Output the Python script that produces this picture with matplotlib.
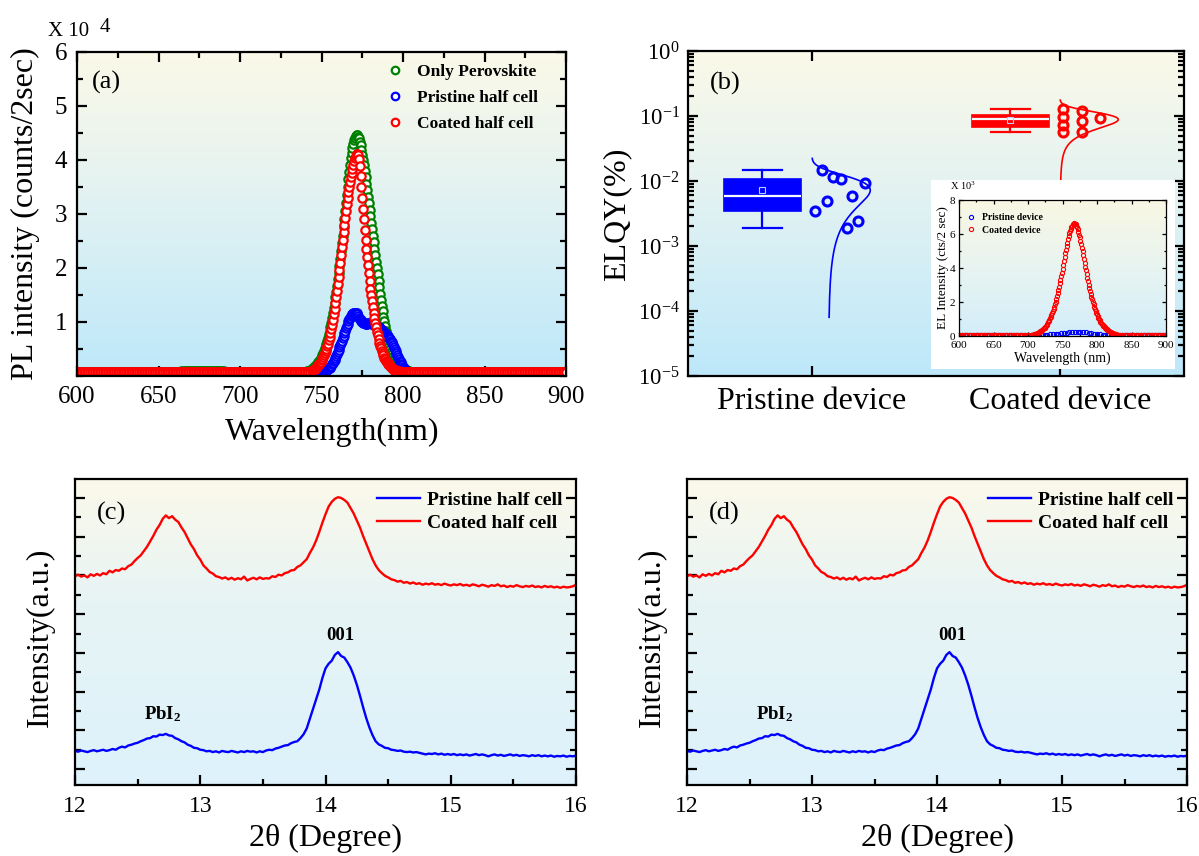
import numpy as np
import matplotlib
matplotlib.use("Agg")
import matplotlib.pyplot as plt
from matplotlib.colors import LinearSegmentedColormap
from matplotlib.patches import Rectangle
from matplotlib import cbook
from matplotlib.ticker import MultipleLocator, LogLocator, LogFormatterMathtext, NullFormatter, FixedLocator

plt.rcParams['font.family'] = ['Liberation Serif', 'DejaVu Serif']
plt.rcParams['mathtext.fontset'] = 'custom'
plt.rcParams['mathtext.rm'] = 'Liberation Serif'
plt.rcParams['mathtext.it'] = 'Liberation Serif:italic'
plt.rcParams['mathtext.bf'] = 'Liberation Serif:bold'

# ---------------- (a) PL spectra, intensity in units of 1e4 counts/2sec ----------------
pl_wavelength = np.concatenate([np.arange(600, 745, 1.0), np.arange(745, 805.5, 0.5), np.arange(806, 901, 1.0)])

pl_only_perovskite = (
    [0.08] * 64 + [0.09] * 4 + [0.10] * 19 + [0.09] * 4 + [0.08] * 49
    + [0.08, 0.09, 0.10, 0.11, 0.13]
    + [0.15, 0.165, 0.18, 0.195, 0.21, 0.23, 0.25, 0.275, 0.30, 0.33,
       0.36, 0.395, 0.43, 0.47, 0.51, 0.555, 0.60, 0.655, 0.71, 0.775,
       0.84, 0.915, 0.99, 1.075, 1.16, 1.255, 1.35, 1.455, 1.56, 1.675,
       1.79, 1.915, 2.04, 2.175, 2.31, 2.455, 2.60, 2.75, 2.90, 3.05,
       3.20, 3.35, 3.50, 3.64, 3.78, 3.91, 4.03, 4.13, 4.23, 4.30,
       4.37, 4.41, 4.45, 4.46, 4.46, 4.43, 4.40, 4.34, 4.28, 4.19,
       4.10, 4.00, 3.90, 3.79, 3.68, 3.56, 3.44, 3.32, 3.20, 3.08,
       2.96, 2.84, 2.72, 2.60, 2.48, 2.36, 2.24, 2.12, 2.00, 1.88,
       1.76, 1.64, 1.52, 1.41, 1.30, 1.20, 1.10, 1.01, 0.92, 0.84,
       0.76, 0.69, 0.62, 0.56, 0.50, 0.45, 0.40, 0.36, 0.32, 0.29,
       0.26, 0.235, 0.21, 0.19, 0.17, 0.155, 0.14, 0.13, 0.12, 0.115,
       0.11, 0.105, 0.10, 0.095, 0.09, 0.09, 0.09, 0.085, 0.08, 0.08, 0.08]
    + [0.08] * 95
)

pl_pristine_half = (
    [0.06] * 145
    + [0.06, 0.06, 0.06, 0.06, 0.06, 0.06, 0.06, 0.06, 0.06, 0.06,
       0.07, 0.075, 0.08, 0.085, 0.09, 0.10, 0.11, 0.12, 0.13, 0.14,
       0.15, 0.17, 0.19, 0.215, 0.24, 0.27, 0.30, 0.335, 0.37, 0.41,
       0.45, 0.49, 0.53, 0.57, 0.61, 0.655, 0.70, 0.745, 0.79, 0.835,
       0.88, 0.925, 0.97, 1.01, 1.05, 1.08, 1.11, 1.13, 1.15, 1.16,
       1.17, 1.17, 1.17, 1.16, 1.14, 1.11, 1.08, 1.05, 1.03, 1.01,
       1.00, 0.99, 0.98, 0.975, 0.97, 0.97, 0.97, 0.975, 0.98, 0.98,
       0.98, 0.975, 0.97, 0.96, 0.95, 0.94, 0.93, 0.92, 0.91, 0.905,
       0.90, 0.89, 0.88, 0.865, 0.85, 0.835, 0.82, 0.805, 0.79, 0.775,
       0.76, 0.74, 0.72, 0.70, 0.68, 0.655, 0.63, 0.605, 0.58, 0.54,
       0.50, 0.46, 0.42, 0.385, 0.35, 0.315, 0.28, 0.25, 0.22, 0.195,
       0.17, 0.15, 0.13, 0.115, 0.10, 0.09, 0.08, 0.075, 0.07, 0.065, 0.06]
    + [0.06] * 95
)

pl_coated_half = (
    [0.07] * 140
    + [0.07, 0.07, 0.08, 0.08, 0.09]
    + [0.11, 0.12, 0.13, 0.145, 0.16, 0.18, 0.20, 0.22, 0.24, 0.265,
       0.29, 0.32, 0.35, 0.385, 0.42, 0.46, 0.50, 0.55, 0.60, 0.66,
       0.72, 0.79, 0.87, 0.95, 1.04, 1.14, 1.24, 1.35, 1.46, 1.58,
       1.70, 1.83, 1.96, 2.10, 2.24, 2.38, 2.52, 2.66, 2.80, 2.93,
       3.06, 3.18, 3.30, 3.40, 3.50, 3.59, 3.68, 3.76, 3.84, 3.91,
       3.98, 4.03, 4.08, 4.11, 4.12, 4.09, 4.02, 3.88, 3.70, 3.50,
       3.30, 3.10, 2.90, 2.71, 2.52, 2.36, 2.20, 2.05, 1.90, 1.76,
       1.62, 1.50, 1.38, 1.27, 1.17, 1.07, 0.98, 0.90, 0.82, 0.75,
       0.68, 0.62, 0.56, 0.51, 0.46, 0.42, 0.38, 0.34, 0.31, 0.28,
       0.26, 0.24, 0.22, 0.20, 0.18, 0.165, 0.15, 0.14, 0.13, 0.12,
       0.11, 0.105, 0.10, 0.095, 0.09, 0.085, 0.08, 0.08, 0.08, 0.075,
       0.075, 0.07, 0.07, 0.07, 0.07, 0.07, 0.07, 0.07, 0.07, 0.07, 0.07]
    + [0.07] * 95
)

pl_labels = ['Only Perovskite', 'Pristine half cell', 'Coated half cell']

# ---------------- (b) ELQY (%) per device ----------------
device_names = ['Pristine device', 'Coated device']
elqy_pristine = [0.0148, 0.0116, 0.0106, 0.0094, 0.0059, 0.0049, 0.0034, 0.0024, 0.0019]
elqy_coated = [0.126, 0.098, 0.073, 0.056, 0.120, 0.085, 0.056, 0.092]
# horizontal scatter of the individual devices next to each box
jitter_pristine = [0.04, 0.085, 0.115, 0.214, 0.163, 0.06, 0.012, 0.185, 0.14]
jitter_coated = [0.011, 0.011, 0.011, 0.011, 0.087, 0.087, 0.087, 0.161]

# inset: EL spectra, intensity in units of 1e3 cts/2 sec
el_wavelength_coated = np.concatenate([np.arange(600, 706, 2), np.arange(706, 830, 1), np.arange(830, 901, 2)])
el_coated = (
    [0.06] * 53
    + [0.07, 0.08, 0.09, 0.10, 0.11, 0.12, 0.13, 0.15, 0.17, 0.19,
       0.21, 0.24, 0.27, 0.30, 0.33, 0.37, 0.41, 0.45, 0.50, 0.55,
       0.60, 0.66, 0.73, 0.80, 0.87, 0.95, 1.04, 1.13, 1.23, 1.34,
       1.46, 1.58, 1.72, 1.86, 2.01, 2.17, 2.34, 2.51, 2.70, 2.89,
       3.09, 3.30, 3.51, 3.73, 3.95, 4.18, 4.40, 4.63, 4.86, 5.08,
       5.29, 5.50, 5.69, 5.87, 6.03, 6.18, 6.31, 6.42, 6.50, 6.57,
       6.61, 6.62,
       6.61, 6.56, 6.49, 6.39, 6.27, 6.13, 5.97, 5.80, 5.61, 5.41,
       5.20, 4.98, 4.76, 4.53, 4.30, 4.08, 3.86, 3.64, 3.43, 3.22,
       3.02, 2.83, 2.65, 2.48, 2.31, 2.15, 2.00, 1.86, 1.73, 1.60,
       1.48, 1.37, 1.27, 1.17, 1.08, 1.00, 0.92, 0.85, 0.78, 0.72,
       0.66, 0.61, 0.56, 0.51, 0.47, 0.43, 0.39, 0.36, 0.33, 0.30,
       0.27, 0.24, 0.22, 0.20, 0.18, 0.16, 0.14, 0.12, 0.11, 0.10,
       0.09, 0.08]
    + [0.07] * 36
)
el_wavelength_pristine = np.arange(600, 901, 4)
el_pristine = (
    [0.03] * 29
    + [0.04, 0.05, 0.06, 0.07, 0.09, 0.10, 0.12, 0.14, 0.16, 0.18,
       0.20, 0.21, 0.22, 0.23, 0.24, 0.24, 0.22, 0.21, 0.19, 0.16,
       0.13, 0.11, 0.10, 0.07, 0.06, 0.05, 0.04, 0.03, 0.03]
    + [0.03] * 18
)
el_labels = ['Pristine device', 'Coated device']

# ---------------- (c)/(d) XRD patterns, arbitrary units ----------------
two_theta = np.linspace(12.0, 16.0, 161)
xrd_pristine = [
    0.47, 0.45, 0.48, 0.46, 0.44, 0.47, 0.49, 0.46, 0.48, 0.50,
    0.47, 0.49, 0.52, 0.50, 0.55, 0.58, 0.56, 0.61, 0.63, 0.66,
    0.68, 0.72, 0.75, 0.79, 0.80, 0.85, 0.84, 0.89, 0.88, 0.91,
    0.87, 0.86, 0.80, 0.77, 0.72, 0.69, 0.63, 0.60, 0.55, 0.54,
    0.50, 0.49, 0.46, 0.47, 0.44, 0.46, 0.43, 0.47, 0.45, 0.44,
    0.47, 0.45, 0.43, 0.46, 0.44, 0.47, 0.45, 0.46, 0.43, 0.46,
    0.44, 0.48, 0.50, 0.49, 0.53, 0.55, 0.58, 0.61, 0.62, 0.67,
    0.70, 0.72, 0.80, 0.90, 1.05, 1.30, 1.55, 1.80, 2.05, 2.35,
    2.60, 2.72, 2.80, 2.95, 3.02, 2.92, 2.88, 2.76, 2.62, 2.42,
    2.18, 1.90, 1.60, 1.32, 1.08, 0.88, 0.72, 0.64, 0.60, 0.55,
    0.54, 0.50, 0.49, 0.47, 0.48, 0.45, 0.44, 0.45, 0.43, 0.44,
    0.42, 0.40, 0.38, 0.40, 0.39, 0.41, 0.38, 0.40, 0.37, 0.39,
    0.37, 0.39, 0.36, 0.38, 0.36, 0.38, 0.35, 0.37, 0.39, 0.36,
    0.38, 0.36, 0.33, 0.36, 0.38, 0.35, 0.37, 0.34, 0.36, 0.38,
    0.35, 0.37, 0.34, 0.36, 0.35, 0.33, 0.36, 0.34, 0.36, 0.33,
    0.35, 0.33, 0.35, 0.32, 0.34, 0.33, 0.35, 0.32, 0.34, 0.33,
    0.35]
xrd_coated = [
    4.98, 5.02, 4.97, 5.00, 4.95, 5.03, 4.99, 5.04, 5.00, 5.06,
    5.03, 5.12, 5.08, 5.14, 5.12, 5.18, 5.16, 5.24, 5.28, 5.37,
    5.45, 5.52, 5.63, 5.74, 5.88, 6.02, 6.18, 6.30, 6.46, 6.55,
    6.48, 6.53, 6.44, 6.38, 6.24, 6.12, 5.96, 5.80, 5.68, 5.52,
    5.41, 5.26, 5.18, 5.09, 5.05, 4.98, 4.96, 4.92, 4.95, 4.90,
    4.94, 4.89, 4.93, 4.90, 4.97, 4.87, 4.91, 4.94, 4.90, 4.95,
    4.91, 4.93, 4.92, 4.98, 4.96, 5.02, 5.00, 5.06, 5.08, 5.13,
    5.14, 5.22, 5.26, 5.34, 5.42, 5.58, 5.72, 5.90, 6.12, 6.36,
    6.58, 6.78, 6.90, 6.98, 7.02, 7.00, 6.95, 6.88, 6.74, 6.60,
    6.42, 6.24, 6.02, 5.82, 5.62, 5.42, 5.26, 5.14, 5.06, 4.99,
    4.95, 4.90, 4.88, 4.84, 4.86, 4.81, 4.83, 4.79, 4.82, 4.78,
    4.80, 4.76, 4.79, 4.77, 4.80, 4.76, 4.78, 4.75, 4.79, 4.76,
    4.74, 4.77, 4.75, 4.78, 4.74, 4.76, 4.73, 4.77, 4.75, 4.72,
    4.76, 4.74, 4.71, 4.75, 4.73, 4.77, 4.72, 4.74, 4.70, 4.73,
    4.71, 4.75, 4.72, 4.70, 4.73, 4.71, 4.74, 4.70, 4.72, 4.69,
    4.73, 4.70, 4.72, 4.69, 4.71, 4.68, 4.71, 4.69, 4.70, 4.72,
    4.76]
xrd_labels = ['Pristine half cell', 'Coated half cell']
peak_names = ['PbI$_\\mathbf{2}$', '001']
peak_spots = [(12.70, 1.42), (14.12, 3.46)]

# ---------------- layout helpers ----------------
W, H = 1199, 856
fig = plt.figure(figsize=(W / 100, H / 100), dpi=100)
fig.patch.set_facecolor('white')

BLUE, RED, GREEN = '#0000FF', '#FF0000', '#008000'


def box(l, t, r, b):
    return [l / W, 1 - b / H, (r - l) / W, (b - t) / H]


def fx(px):
    return px / W


def fy(py):
    return 1 - py / H


def backdrop(r, stops, z):
    bg = fig.add_axes(r, zorder=z)
    bg.set_axis_off()
    cmap = LinearSegmentedColormap.from_list('shade', stops)
    bg.imshow(np.linspace(0, 1, 256).reshape(-1, 1), cmap=cmap, aspect='auto',
              extent=(0, 1, 0, 1), origin='upper', interpolation='bilinear')
    bg.set_xlim(0, 1)
    bg.set_ylim(0, 1)
    return bg


def frame(ax, lw=1.6, major=7, minor=4, size=17):
    ax.set_facecolor('none')
    for s in ax.spines.values():
        s.set_linewidth(lw)
    ax.tick_params(which='both', direction='in', top=True, right=True, width=lw, labelsize=size)
    ax.tick_params(which='major', length=major)
    ax.tick_params(which='minor', length=minor)


shade_top = [(0.0, '#FBF9E8'), (0.45, '#E2F2F2'), (1.0, '#BDE8FA')]
shade_bottom = [(0.0, '#FBF9EA'), (0.40, '#E7F4F4'), (1.0, '#DDF2FC')]
shade_inset = [(0.0, '#F9F7E3'), (0.5, '#E8F4F1'), (1.0, '#D3EEFA')]

# ---------------- panel (a) ----------------
ra = box(77, 52, 566, 376)
backdrop(ra, shade_top, 0.5)
ax_a = fig.add_axes(ra, zorder=1)
for vals, col, lab in zip([pl_only_perovskite, pl_pristine_half, pl_coated_half],
                          [GREEN, BLUE, RED], pl_labels):
    ax_a.plot(pl_wavelength, vals, ls='none', marker='o', ms=6.0, mew=1.6,
              mec=col, mfc='white', label=lab)
ax_a.set_xlim(600, 900)
ax_a.set_ylim(0, 6)
ax_a.xaxis.set_major_locator(MultipleLocator(50))
ax_a.xaxis.set_minor_locator(MultipleLocator(25))
ax_a.yaxis.set_major_locator(FixedLocator([1, 2, 3, 4, 5, 6]))
ax_a.yaxis.set_minor_locator(MultipleLocator(0.5))
frame(ax_a, size=18)
ax_a.tick_params(axis='x', pad=7)
ax_a.tick_params(axis='y', pad=7)
ax_a.legend(loc='upper left', bbox_to_anchor=(0.632, 0.962), frameon=False,
            prop=dict(weight='bold', size=12.5), handlelength=1.0, handletextpad=0.8,
            labelspacing=0.55, borderpad=0, borderaxespad=0, markerscale=0.9)
fig.text(fx(92), fy(82), '(a)', fontsize=19, ha='left', va='center')
fig.text(fx(48), fy(32), 'X 10', fontsize=15, ha='left', va='center')
fig.text(fx(100), fy(27), '4', fontsize=15, ha='left', va='center')
fig.text(fx(332), fy(432), 'Wavelength(nm)', fontsize=23, ha='center', va='center')
fig.text(fx(25), fy(214), 'PL intensity (counts/2sec)', fontsize=23, rotation=90,
         ha='center', va='center')

# ---------------- panel (b) ----------------
rb = box(688, 51, 1184, 376)
backdrop(rb, shade_top, 0.5)
ax_b = fig.add_axes(rb, zorder=1)
ax_b.set_yscale('log')
groups = [(elqy_pristine, jitter_pristine, BLUE, 1.0), (elqy_coated, jitter_coated, RED, 2.0)]
for vals, jit, col, pos in groups:
    stats = cbook.boxplot_stats(np.array(vals), whis=(0, 100))
    ax_b.bxp(stats, positions=[pos - 0.2], widths=0.31, capwidths=0.155,
             patch_artist=True, showmeans=True, showfliers=False,
             boxprops=dict(facecolor=col, edgecolor=col, linewidth=1.2),
             medianprops=dict(color='#F4F8FF', linewidth=1.6),
             whiskerprops=dict(color=col, linewidth=1.6),
             capprops=dict(color=col, linewidth=1.6),
             meanprops=dict(marker='s', markerfacecolor='none', markeredgecolor='#B8D0FF',
                            markersize=4, markeredgewidth=0.8))
    ax_b.plot(pos + np.array(jit), vals, ls='none', marker='o', ms=6.5, mew=2.2,
              mec=col, mfc='none')
    mu, sd = np.mean(vals), np.std(vals, ddof=1)
    yy = np.linspace(8e-5, mu + 3.3 * sd, 600)
    ax_b.plot(pos + 0.235 * np.exp(-0.5 * ((yy - mu) / sd) ** 2), yy, color=col, lw=1.2)
ax_b.set_xlim(0.5, 2.5)
ax_b.set_ylim(1e-5, 1)
ax_b.set_xticks([1, 2])
ax_b.set_xticklabels(device_names)
ax_b.yaxis.set_major_locator(LogLocator(base=10, numticks=10))
ax_b.yaxis.set_major_formatter(LogFormatterMathtext())
ax_b.yaxis.set_minor_locator(LogLocator(base=10, subs=np.arange(2, 10), numticks=20))
ax_b.yaxis.set_minor_formatter(NullFormatter())
frame(ax_b, size=16.5)
ax_b.tick_params(axis='x', which='minor', top=False, bottom=False)
ax_b.tick_params(axis='x', labelsize=23, pad=8)
ax_b.tick_params(axis='y', pad=6)
fig.text(fx(710), fy(83), '(b)', fontsize=19, ha='left', va='center')
fig.text(fx(617), fy(214), 'ELQY(%)', fontsize=23, rotation=90, ha='center', va='center')

# inset with EL spectra
fig.add_artist(Rectangle((fx(931), fy(369)), fx(1175) - fx(931), fy(180) - fy(369),
                         transform=fig.transFigure, facecolor='white', edgecolor='none', zorder=2))
ri = box(959, 200, 1166, 336)
backdrop(ri, shade_inset, 2.5)
ax_i = fig.add_axes(ri, zorder=3)
ax_i.plot(el_wavelength_pristine, el_pristine, ls='none', marker='o', ms=3.0, mew=0.8,
          mec=BLUE, mfc='none', label=el_labels[0])
ax_i.plot(el_wavelength_coated, el_coated, ls='none', marker='o', ms=3.0, mew=0.8,
          mec=RED, mfc='none', label=el_labels[1])
ax_i.set_xlim(600, 900)
ax_i.set_ylim(0, 8)
ax_i.xaxis.set_major_locator(MultipleLocator(50))
ax_i.xaxis.set_minor_locator(MultipleLocator(25))
ax_i.yaxis.set_major_locator(MultipleLocator(2))
ax_i.yaxis.set_minor_locator(MultipleLocator(1))
frame(ax_i, lw=0.9, major=3, minor=1.6, size=8)
ax_i.tick_params(axis='x', pad=3.5)
ax_i.tick_params(axis='y', pad=2.5)
ax_i.legend(loc='upper left', bbox_to_anchor=(0.035, 0.905), frameon=False,
            prop=dict(weight='bold', size=7), handlelength=0.9, handletextpad=0.7,
            labelspacing=0.4, borderpad=0, borderaxespad=0)
ax_i.set_xlabel('Wavelength (nm)', fontsize=10, labelpad=1)
ax_i.set_ylabel('EL Intensity (cts/2 sec)', fontsize=9.5, labelpad=1)
fig.text(fx(950), fy(186), 'X 10$^3$', fontsize=7.5, ha='left', va='center', zorder=4)

# ---------------- panels (c) and (d) ----------------
for left, right, tag in [(75, 576, '(c)'), (687, 1187, '(d)')]:
    rc = box(left, 479, right, 785)
    backdrop(rc, shade_bottom, 0.5)
    ax = fig.add_axes(rc, zorder=1)
    ax.plot(two_theta, xrd_pristine, color=BLUE, lw=1.7, label=xrd_labels[0])
    ax.plot(two_theta, xrd_coated, color=RED, lw=1.7, label=xrd_labels[1])
    ax.set_xlim(12, 16)
    ax.set_ylim(-0.41, 7.49)
    ax.xaxis.set_major_locator(MultipleLocator(1))
    ax.xaxis.set_minor_locator(MultipleLocator(0.5))
    ax.yaxis.set_major_locator(MultipleLocator(1))
    ax.yaxis.set_minor_locator(MultipleLocator(0.5))
    frame(ax, size=17)
    ax.tick_params(which='both', top=False, labelleft=False)
    ax.tick_params(axis='x', pad=8)
    for name, (px, py) in zip(peak_names, peak_spots):
        ax.text(px, py, name, fontsize=13.5, fontweight='bold', ha='center', va='center')
    ax.legend(loc='upper right', bbox_to_anchor=(0.974, 0.96), frameon=False,
              prop=dict(weight='bold', size=14), handlelength=2.2, handletextpad=0.4,
              labelspacing=0.3, borderpad=0, borderaxespad=0)
    fig.text(fx(left + 22), fy(513), tag, fontsize=19, ha='left', va='center')
    fig.text(fx((left + right) / 2), fy(838), '2θ (Degree)', fontsize=23, ha='center', va='center')
    fig.text(fx(left - 35), fy(637), 'Intensity(a.u.)', fontsize=23, rotation=90,
             ha='center', va='center')

fig.savefig('out.png', dpi=100)
